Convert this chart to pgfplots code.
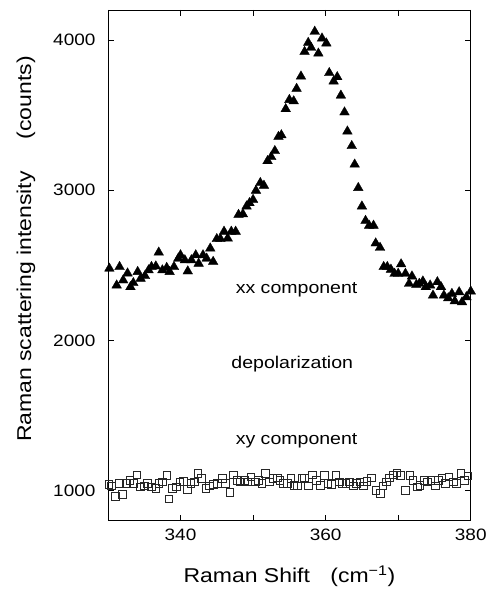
\documentclass[border=0pt]{standalone}
\usepackage{pgfplots}
\pgfplotsset{compat=1.18}
\usepackage{pgfplotstable}
\usepackage{fontspec}
\setmainfont{Liberation Sans}[FakeStretch=1.15]

% xx (parallel) polarization spectrum
\pgfplotstableread{
x y
330.2 2479
331.2 2367
331.6 2490
332.1 2401
332.7 2447
333.1 2356
333.5 2383
334.1 2457
334.5 2412
335.1 2430
335.6 2468
336.0 2490
336.6 2494
337.0 2586
337.5 2468
338.1 2484
338.5 2457
339.1 2490
339.7 2546
340.0 2568
340.6 2535
341.0 2461
341.5 2535
342.1 2568
342.5 2512
343.1 2568
343.6 2546
344.1 2613
344.5 2524
345.0 2676
345.5 2676
346.0 2725
346.5 2680
347.0 2725
347.6 2725
348.0 2837
348.6 2841
349.1 2893
349.5 2915
350.0 2937
350.4 2998
351.0 3049
351.5 3031
352.0 3195
352.5 3222
353.0 3262
353.5 3356
353.9 3367
354.5 3541
355.0 3602
355.6 3593
356.0 3676
356.6 3758
357.1 3922
357.6 3982
358.0 3949
358.5 4056
359.0 3911
359.5 4011
360.1 3978
360.5 3781
361.1 3725
361.6 3754
362.1 3631
362.6 3519
363.0 3392
363.6 3295
364.0 3172
364.5 3016
365.0 2893
365.5 2797
366.0 2765
366.6 2765
366.9 2647
367.5 2618
368.0 2490
368.5 2490
369.0 2472
369.5 2445
370.0 2445
370.4 2508
371.0 2445
371.5 2378
371.9 2427
372.5 2371
372.9 2378
373.4 2394
373.8 2356
374.4 2367
374.8 2300
375.4 2389
375.9 2356
376.3 2300
376.9 2282
377.4 2311
377.8 2262
378.4 2322
378.8 2255
379.4 2289
380.0 2327
}\xxdata

% xy (crossed) polarization spectrum
\pgfplotstableread{
x y
330.1 1044
330.5 1033
331.0 961
331.5 1048
332.0 976
332.6 1048
333.0 1070
333.5 1048
334.0 1107
334.5 1026
335.0 1033
335.4 1048
336.0 1026
336.6 1015
337.0 1048
337.5 1059
338.1 1103
338.4 945
338.9 1015
339.4 1026
339.9 1059
340.4 1063
340.9 1011
341.4 1048
341.9 1059
342.4 1114
342.9 1081
343.5 1015
344.0 1033
344.5 1042
345.1 1048
345.8 1081
346.2 1048
346.8 989
347.3 1107
347.8 1070
348.2 1059
348.8 1070
349.2 1059
349.7 1092
350.3 1059
350.7 1070
351.2 1048
351.7 1114
352.2 1059
352.7 1081
353.3 1085
353.7 1070
354.2 1048
354.7 1048
355.2 1081
355.6 1037
356.1 1033
356.7 1081
357.1 1085
357.6 1033
358.2 1107
358.7 1070
359.3 1037
359.8 1103
360.3 1048
360.8 1042
361.4 1103
361.9 1059
362.3 1048
362.8 1048
363.3 1059
363.8 1033
364.2 1048
364.7 1059
365.2 1033
365.7 1063
366.3 1085
366.9 1004
367.5 983
367.9 1033
368.4 1059
368.8 1085
369.3 1107
369.8 1120
370.3 1103
371.0 1004
371.6 1103
372.0 1070
372.6 1026
373.0 1037
373.6 1070
374.0 1059
374.5 1070
375.1 1033
375.5 1070
376.0 1085
376.5 1048
377.0 1092
377.6 1059
378.0 1048
378.6 1114
379.1 1070
379.6 1098
}\xydata

\begin{document}
\begin{tikzpicture}
\begin{axis}[
  scale only axis,
  width=363pt, height=511pt,
  xmin=330, xmax=380,
  ymin=800, ymax=4200,
  clip=false,
  axis line style={line width=0.8pt},
  tick style={line width=0.7pt, black},
  major tick length=6pt,
  tick align=inside,
  xtick={330,340,350,360,370,380},
  xticklabels={,340,,360,,380},
  ytick={1000,2000,3000,4000},
  yticklabels={1000,2000,3000,4000},
  /pgf/number format/assume math mode=true,
  tick label style={font=\fontsize{16.5}{18}\selectfont},
  xticklabel style={yshift=-5pt},
  yticklabel style={xshift=-9pt},
  xlabel={Raman Shift\hspace{0.7em} (cm\textsuperscript{−1})},
  ylabel={Raman scattering intensity\hspace{1.6em}(counts)},
  label style={font=\fontsize{20}{22}\selectfont},
  xlabel style={at={(axis description cs:0.5,-0.121)}, anchor=base},
  ylabel style={at={(axis description cs:-0.226,0.532)}, anchor=center},
]
\addplot[only marks, mark=triangle*, mark size=5.6pt,
  mark options={fill=black, draw=black, line width=0.3pt}]
  table[x=x, y=y] {\xxdata};
\addplot[only marks, mark=square, mark size=3.8pt,
  mark options={draw=black!85, line width=0.6pt, fill=none}]
  table[x=x, y=y] {\xydata};
\node[font=\fontsize{17}{19}\selectfont] at (axis cs:356.0,2340) {xx component};
\node[font=\fontsize{17}{19}\selectfont] at (axis cs:355.4,1843) {depolarization};
\node[font=\fontsize{17}{19}\selectfont] at (axis cs:356.0,1334) {xy component};
\path (rel axis cs:0,0) ++(-108pt,-69pt);
\path (rel axis cs:1,1) ++(17pt,10pt);
\end{axis}
\end{tikzpicture}
\end{document}
